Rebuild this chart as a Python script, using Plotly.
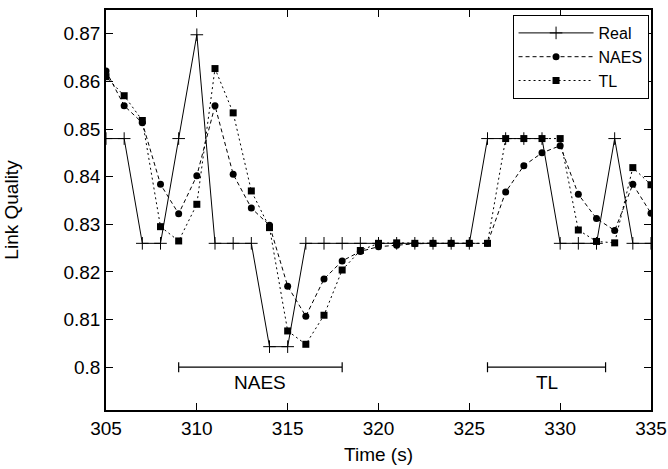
import plotly.graph_objects as go

time_s = list(range(305, 336))
real = [0.848, 0.848, 0.826, 0.826, 0.848, 0.8698, 0.826, 0.826, 0.826, 0.8043,
        0.8043, 0.826, 0.826, 0.826, 0.826, 0.826, 0.826, 0.826, 0.826, 0.826,
        0.826, 0.848, 0.848, 0.848, 0.848, 0.826, 0.826, 0.826, 0.848, 0.826, 0.826]
naes = [0.8622, 0.8549, 0.8513, 0.8384, 0.8322, 0.8402, 0.8549, 0.8405, 0.8334, 0.8298,
        0.8170, 0.8107, 0.8185, 0.8223, 0.8243, 0.8253, 0.8256, 0.8259, 0.8260, 0.8260,
        0.8260, 0.8260, 0.8368, 0.8423, 0.8450, 0.8465, 0.8363, 0.8312, 0.8287, 0.8384, 0.8323]
tl = [0.8610, 0.8570, 0.8518, 0.8295, 0.8265, 0.8342, 0.8627, 0.8534, 0.8370, 0.8293,
      0.8076, 0.8048, 0.8109, 0.8204, 0.8245, 0.8260, 0.8261, 0.8260, 0.8260, 0.8260,
      0.8260, 0.8260, 0.848, 0.848, 0.848, 0.848, 0.8288, 0.8264, 0.8261, 0.8419, 0.8383]

bracket_labels = ["NAES", "TL"]
bracket_start = [309, 326]
bracket_end = [318, 332.5]
bracket_level = 0.8

x_ticks = [305, 310, 315, 320, 325, 330, 335]
y_ticks = [0.80, 0.81, 0.82, 0.83, 0.84, 0.85, 0.86, 0.87]
y_tick_text = ["0.8", "0.81", "0.82", "0.83", "0.84", "0.85", "0.86", "0.87"]

FONT = "Liberation Sans, Arial, sans-serif"
FS = 19

fig = go.Figure()
fig.add_trace(go.Scatter(
    x=time_s, y=real, name="Real", mode="lines+markers",
    line=dict(color="black", width=1),
    marker=dict(symbol="cross-thin", size=9, line=dict(color="black", width=1), color="black"),
))
fig.add_trace(go.Scatter(
    x=time_s, y=naes, name="NAES", mode="lines+markers",
    line=dict(color="black", width=1, dash="4px,3px"),
    marker=dict(symbol="circle", size=7, color="black"),
))
fig.add_trace(go.Scatter(
    x=time_s, y=tl, name="TL", mode="lines+markers",
    line=dict(color="black", width=1, dash="2px,3px"),
    marker=dict(symbol="square", size=7, color="black"),
))

centers = [(a + b) / 2 for a, b in zip(bracket_start, bracket_end)]
halves = [(b - a) / 2 for a, b in zip(bracket_start, bracket_end)]
fig.add_trace(go.Scatter(
    x=centers, y=[bracket_level] * len(centers), mode="markers",
    marker=dict(size=1, color="rgba(0,0,0,0)"),
    error_x=dict(type="data", array=halves, symmetric=True, color="black", thickness=1.2, width=5),
    showlegend=False, hoverinfo="skip",
))
for lab, c in zip(bracket_labels, centers):
    fig.add_annotation(x=c, y=bracket_level, text=lab, showarrow=False,
                       yanchor="top", yshift=-3, font=dict(size=FS, color="black", family=FONT))

axis_common = dict(
    showline=True, linecolor="black", linewidth=1.5, mirror="ticks",
    ticks="inside", ticklen=7, tickwidth=1.2, tickcolor="black",
    showgrid=False, zeroline=False, automargin=False,
    tickfont=dict(size=FS, color="black", family=FONT),
)
fig.update_xaxes(range=[305, 335], tickvals=x_ticks, ticklabelstandoff=0,
                 title=dict(text="Time (s)", font=dict(size=FS, color="black", family=FONT), standoff=10),
                 **axis_common)
fig.update_yaxes(range=[0.791, 0.875], tickvals=y_ticks, ticktext=y_tick_text,
                 title=dict(text="Link Quality", font=dict(size=FS, color="black", family=FONT), standoff=40),
                 **axis_common)

fig.update_layout(
    width=668, height=469,
    margin=dict(l=106, r=17, t=10, b=59),
    paper_bgcolor="white", plot_bgcolor="white",
    font=dict(family=FONT, color="black", size=FS),
    legend=dict(x=0.9955, y=0.9875, xanchor="right", yanchor="top",
                bordercolor="black", borderwidth=1, bgcolor="white",
                font=dict(size=16, family=FONT), tracegroupgap=0, itemwidth=75),
)
fig.write_html("out.html", config={"displayModeBar": False},
               post_script="document.body.style.margin='0';document.body.style.overflow='hidden';")
